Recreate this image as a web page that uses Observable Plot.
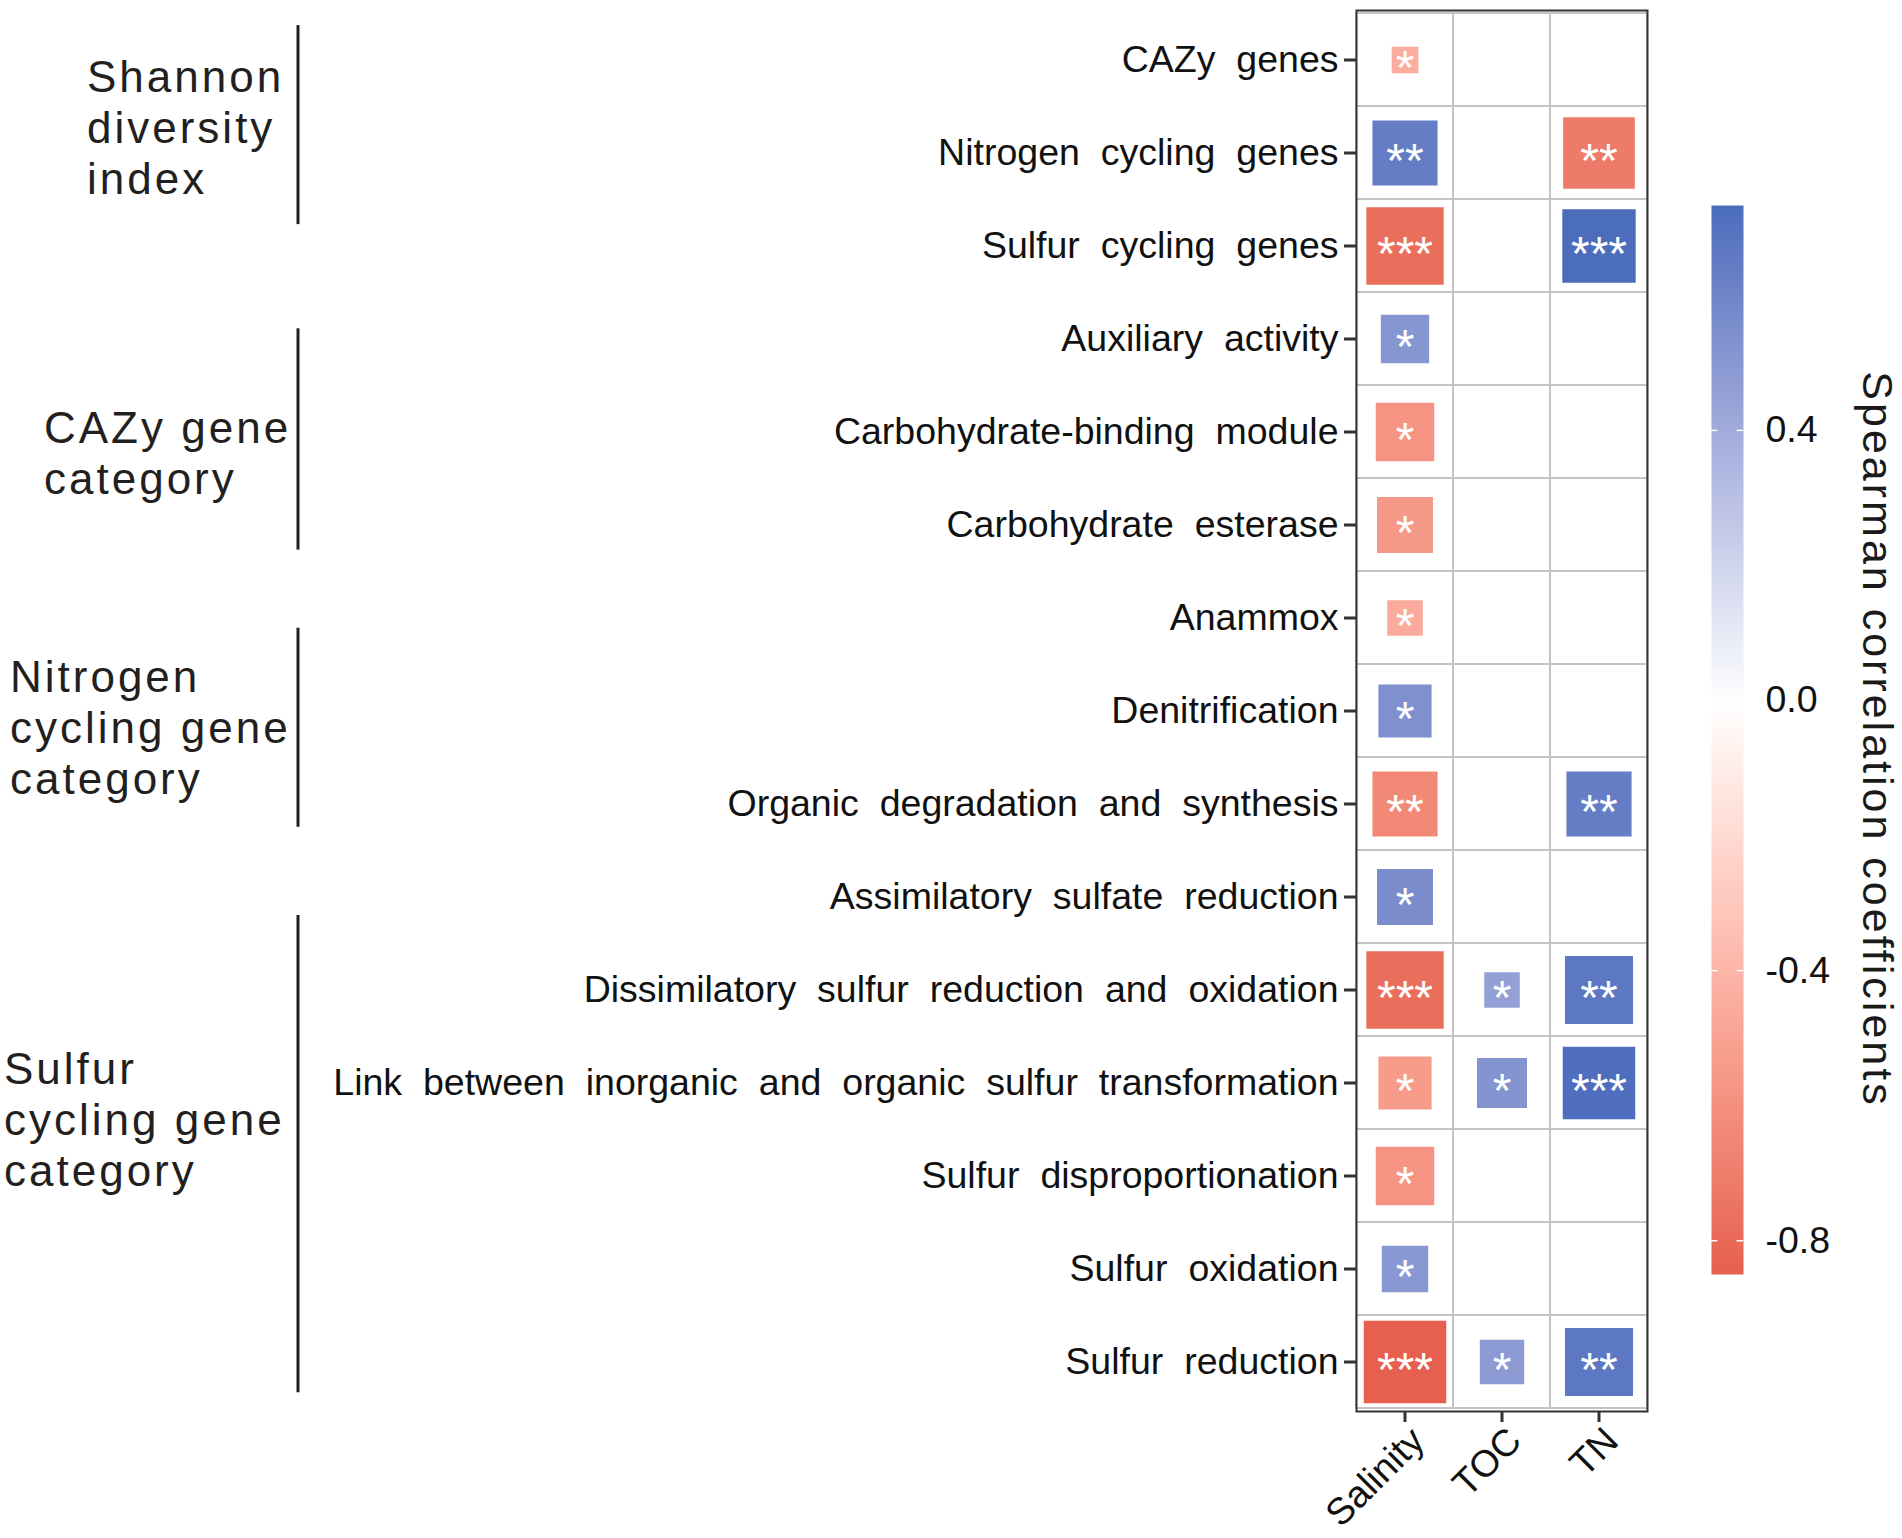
<!DOCTYPE html>
<html>
<head>
<meta charset="utf-8">
<script src="https://cdn.jsdelivr.net/npm/d3@7"></script>
<script src="https://cdn.jsdelivr.net/npm/@observablehq/plot@0.6"></script>
<style>
  html, body { margin: 0; padding: 0; background: #fff; }
  #wrap { position: relative; width: 1902px; height: 1538px; background: #fff;
          font-family: "Liberation Sans", Arial, Helvetica, sans-serif; overflow: hidden; }
  #main, #legend, #overlay { position: absolute; top: 0; }
  #main { left: 0; }
  #legend { left: 1690px; }
  #overlay { left: 0; pointer-events: none; }
  #main [aria-label="y-axis tick label"] text { word-spacing: 0.28em; }
</style>
</head>
<body>
<div id="wrap">
  <div id="main"></div>
  <div id="legend"></div>
</div>
<script>
// ---------------- data ----------------
const rowNames = [
  "CAZy genes",
  "Nitrogen cycling genes",
  "Sulfur cycling genes",
  "Auxiliary activity",
  "Carbohydrate-binding module",
  "Carbohydrate esterase",
  "Anammox",
  "Denitrification",
  "Organic degradation and synthesis",
  "Assimilatory sulfate reduction",
  "Dissimilatory sulfur reduction and oxidation",
  "Link between inorganic and organic sulfur transformation",
  "Sulfur disproportionation",
  "Sulfur oxidation",
  "Sulfur reduction"
];
const colNames = ["Salinity", "TOC", "TN"];

const salinityR   = [-0.45, 0.64, -0.78, 0.51, -0.58, -0.56, -0.46, 0.54, -0.64, 0.56, -0.78, -0.54, -0.58, 0.50, -0.85];
const salinitySig = ["*", "**", "***", "*", "*", "*", "*", "*", "**", "*", "***", "*", "*", "*", "***"];
const tocR   = [null, null, null, null, null, null, null, null, null, null, 0.46, 0.52, null, null, 0.49];
const tocSig = ["", "", "", "", "", "", "", "", "", "", "*", "*", "", "", "*"];
const tnR   = [null, -0.71, 0.73, null, null, null, null, null, 0.64, null, 0.67, 0.72, null, null, 0.67];
const tnSig = ["", "**", "***", "", "", "", "", "", "**", "", "**", "***", "", "", "**"];

const groupLabels = [
  ["Shannon", "diversity", "index"],
  ["CAZy gene", "category"],
  ["Nitrogen", "cycling gene", "category"],
  ["Sulfur", "cycling gene", "category"]
];

const legendTitle = "Spearman correlation coefficients";
const legendTicks = [-0.8, -0.4, 0.0, 0.4];
const colorLimits = [-0.85, 0.733];

// ---------------- layout (style only) ----------------
const groupLayout = [
  { x: 87, barTop: 0.13, barBottom: 2.27, mid: 1.24 },
  { x: 44, barTop: 3.39, barBottom: 5.77, mid: 4.74 },
  { x: 10, barTop: 6.61, barBottom: 8.75, mid: 7.69 },
  { x: 4,  barTop: 9.70, barBottom: 14.83, mid: 11.9 }
];

// ---------------- table ----------------
const seriesR = [salinityR, tocR, tnR];
const seriesSig = [salinitySig, tocSig, tnSig];
const cells = [];
const gridCells = [];
rowNames.forEach((row, i) => {
  colNames.forEach((col, j) => {
    gridCells.push({ row, col });
    const v = seriesR[j][i];
    if (v != null) cells.push({ row, col, value: v, sig: seriesSig[j][i] });
  });
});
const [minAbs, maxAbs] = d3.extent(cells, d => Math.abs(d.value));

const colorOpts = {
  type: "linear",
  domain: [colorLimits[0], 0, colorLimits[1]],
  range: ["#E65F4F", "#FFFFFF", "#4B6CBC"],
  interpolate: d3.interpolateLab
};

const FONT = '"Liberation Sans", Arial, Helvetica, sans-serif';
const frameLeft = 1356, frameW = 291, frameTop = 10, frameH = 1401;
const sideMin = 26.7, sideMax = 82.5; // square side range in px (size legend range)

const main = Plot.plot({
  width: frameLeft + frameW + 12,
  height: 1538,
  marginLeft: frameLeft,
  marginRight: 12,
  marginTop: frameTop,
  marginBottom: 1538 - frameTop - frameH,
  style: { fontFamily: FONT, color: "#111", background: "transparent", overflow: "visible" },
  x: { type: "band", domain: colNames, padding: 0, label: null },
  y: { type: "band", domain: rowNames, padding: 0, label: null },
  color: colorOpts,
  r: { type: "pow", exponent: 0.5, domain: [0, 1],
       range: [sideMin / Math.sqrt(Math.PI), sideMax / Math.sqrt(Math.PI)] },
  marks: [
    Plot.cell(gridCells, { x: "col", y: "row", fill: "white", stroke: "#c4c4c4", strokeWidth: 2 }),
    Plot.dot(cells, { x: "col", y: "row",
                      r: d => (Math.abs(d.value) - minAbs) / (maxAbs - minAbs),
                      fill: "value", symbol: "square" }),
    Plot.text(cells, { x: "col", y: "row", text: "sig", fill: "white", fontSize: 48, dy: 9 }),
    Plot.frame({ stroke: "#333", strokeWidth: 2 }),
    Plot.axisY({ tickSize: 12, tickPadding: 6, fontSize: 37.5, label: null, stroke: "#333", strokeWidth: 3 }),
    Plot.axisX({ tickSize: 11, tickFormat: () => "", label: null, stroke: "#333", strokeWidth: 3 }),
    Plot.axisX({ tickSize: 0, tickPadding: 23, tickRotate: -45, dx: 13, fontSize: 37.5, label: null })
  ]
});
document.getElementById("main").appendChild(main);

// ---------------- legend (colour bar) ----------------
const legend = Plot.plot({
  width: 163,
  height: 1538,
  marginTop: 205,
  marginBottom: 1538 - 1274,
  marginLeft: 21,
  marginRight: 110,
  style: { fontFamily: FONT, color: "#111", background: "transparent", overflow: "visible" },
  x: { domain: [0, 1], axis: null },
  y: { domain: colorLimits, axis: null },
  color: colorOpts,
  marks: [
    Plot.raster({ x1: 0, x2: 1, y1: colorLimits[0], y2: colorLimits[1], width: 2, height: 600,
                  fill: (x, y) => y, imageRendering: "auto" }),
    Plot.ruleY(legendTicks, { x1: 0, x2: 0.2, stroke: "white", strokeWidth: 1.5 }),
    Plot.ruleY(legendTicks, { x1: 0.8, x2: 1, stroke: "white", strokeWidth: 1.5 }),
    Plot.axisY(legendTicks, { anchor: "right", tickSize: 0, tickPadding: 22, fontSize: 37.5,
                              tickFormat: d => d.toFixed(1), label: null })
  ]
});
document.getElementById("legend").appendChild(legend);

// ---------------- group brackets & labels (from main y scale) ----------------
const yS = main.scale("y");
const y0 = yS.apply(rowNames[0]);
const bw = yS.bandwidth;
const rowPos = k => y0 + k * bw;

const svg = d3.select("#wrap").append("svg")
  .attr("id", "overlay").attr("width", 1902).attr("height", 1538);

groupLabels.forEach((lines, gi) => {
  const g = groupLayout[gi];
  svg.append("line")
    .attr("x1", 298).attr("x2", 298)
    .attr("y1", rowPos(g.barTop)).attr("y2", rowPos(g.barBottom))
    .attr("stroke", "#231f20").attr("stroke-width", 3);
  const mid = rowPos(g.mid);
  const n = lines.length;
  lines.forEach((t, li) => {
    svg.append("text")
      .attr("x", g.x)
      .attr("y", mid + (li - (n - 1) / 2) * 51 + 15)
      .attr("font-family", FONT)
      .attr("font-size", 44)
      .attr("letter-spacing", 3)
      .attr("fill", "#231f20")
      .text(t);
  });
});

// legend title, centred on the colour bar's extent
const ly = d3.scaleLinear().domain(colorLimits).range([1274, 205]);
const titleY = (ly(colorLimits[0]) + ly(colorLimits[1])) / 2;
svg.append("text")
  .attr("transform", `translate(1863,${titleY}) rotate(90)`)
  .attr("text-anchor", "middle")
  .attr("font-family", FONT)
  .attr("font-size", 43)
  .attr("letter-spacing", 3)
  .attr("fill", "#1a1a1a")
  .text(legendTitle);
</script>
</body>
</html>
